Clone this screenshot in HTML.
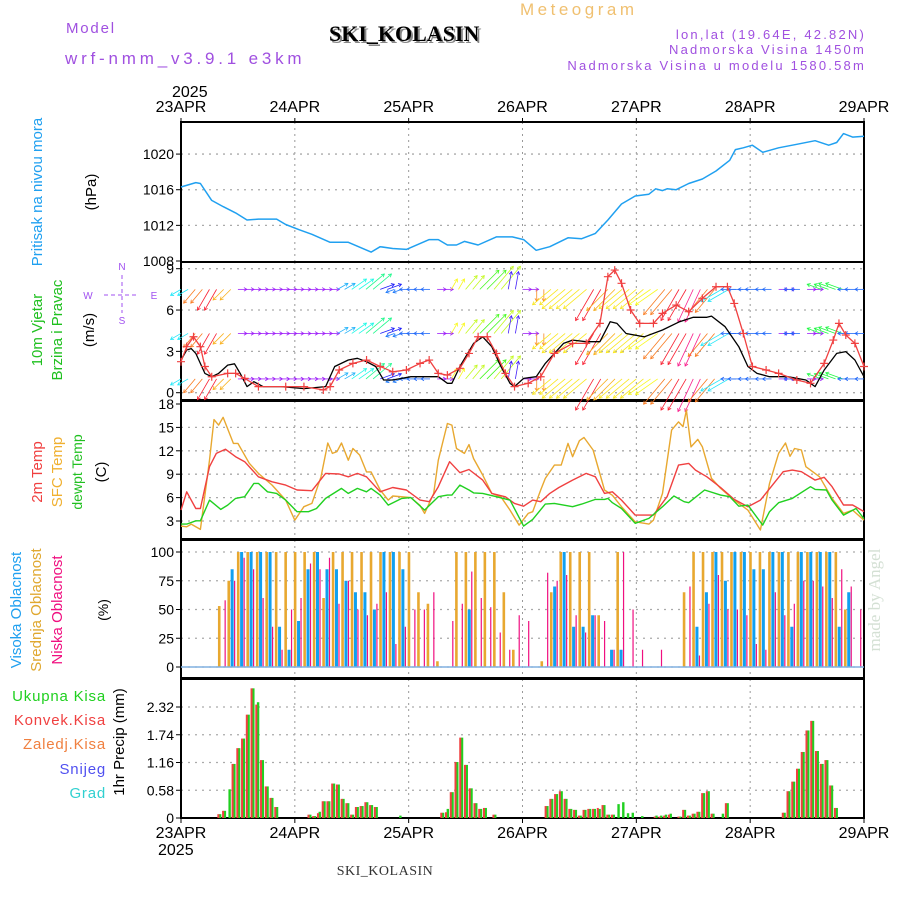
<!DOCTYPE html>
<html><head><meta charset="utf-8"><style>
html,body{margin:0;padding:0;background:#fff;}
svg{display:block;font-family:"Liberation Sans",sans-serif;}
</style></head><body>
<svg id="chart" width="900" height="900" viewBox="0 0 900 900" xmlns="http://www.w3.org/2000/svg">
<text x="520" y="15" font-size="17" fill="#f0c070" letter-spacing="3.5">Meteogram</text>
<text x="66" y="33" font-size="15" fill="#a050e0" letter-spacing="1.8">Model</text>
<text x="331" y="43" font-size="22" font-weight="bold" font-family="Liberation Serif,serif" fill="#888">SKI_KOLASIN</text>
<text x="329" y="41" font-size="22" font-weight="bold" font-family="Liberation Serif,serif" fill="#000">SKI_KOLASIN</text>
<text x="65" y="64" font-size="17" fill="#a050e0" letter-spacing="3.8">wrf-nmm_v3.9.1 e3km</text>
<text x="866" y="39" font-size="13" fill="#a050e0" text-anchor="end" letter-spacing="2.2">lon,lat (19.64E, 42.82N)</text>
<text x="866" y="54" font-size="13" fill="#a050e0" text-anchor="end" letter-spacing="2.2">Nadmorska Visina 1450m</text>
<text x="866" y="70" font-size="13" fill="#a050e0" text-anchor="end" letter-spacing="2.2">Nadmorska Visina u modelu 1580.58m</text>
<text x="880" y="600" font-size="17" fill="#d4e0d4" font-family="Liberation Serif,serif" text-anchor="middle" transform="rotate(-90 880 600)">made by Angel</text>
<text x="385" y="875" font-size="14" font-family="Liberation Serif,serif" fill="#333" text-anchor="middle" letter-spacing="0.5">SKI_KOLASIN</text>
<g id="dyn"></g>
</svg>
<script>
// ---- data ----
const dayLabels=["23APR","24APR","25APR","26APR","27APR","28APR","29APR"];
const presTicks=[1008,1012,1016,1020];
const windTicks=[0,3,6,9];
const tempTicks=[3,6,9,12,15,18];
const cloudTicks=[0,25,50,75,100];
const precTicks=[0,0.58,1.16,1.74,2.32];
const presDays=[0,0.13,0.17,0.27,0.37,0.48,0.58,0.68,0.84,0.92,1.04,1.15,1.31,1.47,1.67,1.75,1.86,1.98,2.18,2.26,2.34,2.42,2.49,2.61,2.77,2.91,3.01,3.12,3.24,3.40,3.52,3.64,3.75,3.87,3.99,4.11,4.17,4.23,4.27,4.35,4.46,4.58,4.70,4.82,4.87,4.94,5.02,5.11,5.25,5.41,5.57,5.69,5.76,5.82,5.90,6.0];
const presVals=[1016.3,1016.8,1016.7,1014.8,1014.1,1013.4,1012.6,1012.7,1012.7,1012.1,1011.5,1011.0,1010.1,1010.1,1009.0,1009.6,1009.4,1009.3,1010.4,1010.4,1009.8,1009.8,1010.2,1009.8,1010.7,1010.7,1010.4,1009.2,1009.6,1010.6,1010.5,1011.1,1012.6,1014.4,1015.3,1015.5,1016.1,1015.9,1016.1,1016.0,1016.7,1017.2,1018.1,1019.3,1020.5,1020.7,1021.0,1020.2,1020.7,1021.1,1021.5,1021.0,1021.3,1022.3,1021.9,1022.0];
const spdDays=[0,0.05,0.09,0.13,0.21,0.27,0.33,0.41,0.47,0.52,0.58,0.64,0.72,0.88,1.08,1.27,1.35,1.47,1.55,1.63,1.71,1.78,1.86,2.02,2.17,2.26,2.34,2.38,2.45,2.57,2.65,2.73,2.81,2.89,2.93,3.01,3.12,3.20,3.28,3.36,3.44,3.56,3.68,3.77,3.83,3.91,4.07,4.23,4.38,4.50,4.62,4.66,4.78,4.90,4.98,5.06,5.17,5.33,5.49,5.57,5.65,5.76,5.84,5.92,6.0];
const spdVals=[2.37,3.1,3.2,2.85,1.4,1.16,1.4,2.0,2.1,1.4,0.44,0.8,0.44,0.44,0.3,0.44,1.9,2.37,2.5,2.25,1.9,0.92,0.92,1.16,1.16,1.16,0.68,0.68,1.9,3.58,4.06,3.34,1.9,0.68,0.44,1.04,1.16,2.13,2.85,3.58,3.82,3.7,3.7,5.15,5.03,4.3,4.06,4.55,5.15,5.47,5.47,5.56,4.79,3.34,1.9,1.4,1.16,1.16,0.92,0.44,1.65,2.85,2.98,2.37,1.16];
const gustDays=[0,0.05,0.11,0.17,0.21,0.27,0.41,0.48,0.56,0.68,0.92,1.08,1.25,1.31,1.39,1.51,1.63,1.75,1.86,1.98,2.10,2.18,2.26,2.34,2.45,2.53,2.61,2.69,2.77,2.85,2.93,3.05,3.16,3.28,3.44,3.56,3.68,3.75,3.81,3.87,3.95,4.03,4.15,4.23,4.35,4.46,4.58,4.70,4.80,4.86,4.94,5.02,5.14,5.25,5.41,5.53,5.65,5.73,5.78,5.84,5.92,6.0];
const gustVals=[2.25,3.34,4.06,3.34,1.9,1.16,1.4,1.4,1.04,0.44,0.44,0.44,0.2,0.44,1.65,2.13,2.37,1.9,1.52,1.65,2.13,2.37,1.4,1.28,1.77,2.85,4.06,4.06,2.85,1.4,0.44,0.68,1.16,2.85,3.58,3.58,5.03,8.42,8.9,7.94,6.0,5.03,5.03,5.76,6.36,5.88,6.85,7.69,7.69,6.48,4.3,1.9,1.65,1.4,0.92,0.68,2.13,3.82,5.03,4.19,3.58,1.9];
// wind vectors, 3-hourly: screen pointing angle (deg) and speed (m/s)
const windAngle=[150,130,120,135,0,0,0,0,0,0,0,-30,-35,-40,-20,160,180,180,0,-60,-50,-45,-50,-80,0,90,140,140,140,120,135,140,140,145,130,120,115,130,150,180,180,180,0,180,0,200,200,180,180];
const windSpeed=[4,6,8,5,3,3,3,3,3,3,3,4,6,8,5,3,3,3,3,4,6,9,10,6,3,4,8,10,10,12,10,10,10,9,11,12,12,10,8,5,4,3,3,3,3,5,6,4,3];
const windLevels=[7.5,4.3,1.0];
const t2Days=[0,0.05,0.13,0.17,0.25,0.31,0.39,0.48,0.56,0.68,0.8,0.92,1.02,1.15,1.27,1.39,1.47,1.55,1.63,1.75,1.86,1.98,2.1,2.18,2.26,2.36,2.45,2.53,2.65,2.73,2.85,2.93,3.01,3.09,3.16,3.24,3.32,3.44,3.56,3.64,3.72,3.79,3.87,3.99,4.15,4.27,4.37,4.46,4.52,4.62,4.74,4.86,4.98,5.09,5.29,5.37,5.45,5.57,5.65,5.72,5.82,5.90,6.0];
const t2Vals=[4.4,6.75,4.6,4.6,9.96,11.67,12.2,11.24,10.6,8.67,8.03,7.6,6.97,6.88,9.1,9.02,8.67,9.1,8.67,6.75,7.3,6.97,5.68,5.47,7.4,10.6,9.19,9.6,8.25,6.54,6.1,5.26,4.9,5.68,5.47,6.54,7.3,8.25,9.1,8.67,6.54,6.75,5.68,3.76,3.76,6.11,10.17,10.38,9.53,8.67,7.3,5.77,4.83,5.68,9.32,9.53,9.32,8.25,8.6,7.4,5.05,5.05,4.2];
const sfcDays=[0,0.05,0.09,0.17,0.25,0.29,0.33,0.37,0.46,0.5,0.6,0.68,0.8,0.92,1.0,1.08,1.15,1.23,1.29,1.33,1.37,1.41,1.47,1.51,1.57,1.63,1.67,1.75,1.82,1.86,2.02,2.1,2.14,2.22,2.26,2.34,2.38,2.42,2.49,2.53,2.57,2.65,2.73,2.81,2.89,2.97,3.05,3.09,3.16,3.2,3.28,3.34,3.4,3.44,3.5,3.54,3.62,3.72,3.79,3.87,3.99,4.11,4.15,4.23,4.31,4.37,4.41,4.44,4.48,4.54,4.58,4.66,4.74,4.86,4.98,5.09,5.17,5.25,5.31,5.35,5.39,5.45,5.49,5.61,5.72,5.82,5.90,6.0];
const sfcVals=[2.35,2.26,2.6,1.92,10.8,16.0,15.3,16.3,12.95,12.95,10.4,9.1,7.6,5.68,3.1,4.83,5.26,8.67,13.0,11.67,11.9,13.0,10.8,12.3,11.45,9.3,9.3,6.97,5.68,6.2,6.0,5.0,3.97,6.54,10.8,15.5,15.3,12.3,11.67,12.8,11.0,8.9,6.54,6.1,4.4,2.48,3.97,4.19,6.97,8.46,10.17,10.17,12.95,11.24,13.3,13.7,12.1,6.97,6.3,4.83,2.9,2.6,3.1,6.54,14.66,15.7,15.1,17.2,12.5,13.46,12.5,8.46,7.18,5.68,4.4,1.84,7.8,11.67,13.0,11.3,12.3,12.1,9.96,8.67,5.9,3.97,4.4,3.1];
const dewDays=[0,0.05,0.13,0.17,0.25,0.35,0.41,0.48,0.56,0.64,0.68,0.76,0.84,0.92,1.02,1.12,1.19,1.27,1.41,1.47,1.55,1.63,1.67,1.75,1.82,1.94,2.02,2.14,2.26,2.34,2.38,2.45,2.53,2.57,2.65,2.77,2.89,3.01,3.09,3.2,3.28,3.36,3.44,3.52,3.64,3.72,3.75,3.79,3.87,3.99,4.11,4.23,4.33,4.42,4.46,4.6,4.74,4.82,4.9,4.98,5.11,5.17,5.25,5.37,5.53,5.57,5.67,5.72,5.82,5.93,6.0];
const dewVals=[2.6,2.6,3.03,3.03,5.68,4.49,5.04,5.9,6.11,7.82,7.82,6.75,6.54,5.68,4.19,4.19,4.6,5.9,7.18,6.54,7.18,6.75,7.18,6.32,5.04,5.9,6.0,4.4,6.11,6.32,6.32,7.6,6.97,6.6,6.54,6.11,5.68,2.35,3.2,5.17,5.26,5.04,4.83,5.17,5.77,5.77,5.9,5.34,4.6,2.7,3.33,4.83,6.2,5.47,5.34,6.97,6.32,6.11,4.9,5.04,2.48,4.19,5.34,5.9,7.4,7.05,6.97,5.68,3.76,4.6,3.3];
// cloud cover, 2-hourly (%)
const highCloud=[0,0,0,0,0,85,100,100,100,100,35,15,40,85,100,85,85,75,65,65,50,100,100,85,0,0,0,0,0,0,50,0,0,0,0,0,0,0,0,70,100,35,35,45,0,15,15,0,0,0,0,0,0,0,35,65,100,75,100,100,85,85,100,100,35,100,100,100,100,35,65,0,0];
const midCloud=[0,0,0,0,53,75,100,100,100,100,100,100,100,100,100,60,100,100,100,100,100,100,100,100,100,65,55,5,0,100,100,100,100,100,65,15,0,0,5,65,100,100,100,100,45,0,100,0,0,0,0,0,0,65,100,100,100,100,100,100,100,100,100,100,100,100,100,100,100,100,50,0,0];
const lowCloud=[0,0,0,0,58,75,95,85,60,35,15,50,60,90,85,95,55,75,50,45,55,65,20,35,50,50,65,0,40,55,83,60,52,30,15,45,40,0,82,75,80,45,30,45,40,15,100,50,15,0,15,0,0,70,10,55,80,50,50,45,20,15,65,45,55,75,75,70,60,85,70,50,0];
// hourly precipitation (mm)
const precHours=[8,9,10,11,12,13,14,15,16,17,18,19,20,27,28,29,30,31,32,33,34,35,36,37,38,39,40,41,46,55,56,57,58,59,60,61,62,63,64,66,77,78,79,80,81,82,83,84,85,86,87,88,89,90,91,92,93,94,95,97,100,101,102,103,105,106,107,108,109,110,111,112,114,115,127,128,129,130,131,132,133,134,135,136,137,138];
const totalPrec=[0.08,0.15,0.6,1.13,1.46,1.66,2.16,2.71,2.42,1.21,0.66,0.42,0.23,0.07,0.04,0.13,0.35,0.35,0.72,0.7,0.4,0.31,0.07,0.23,0.25,0.33,0.27,0.23,0.05,0.11,0.19,0.54,1.17,1.68,1.11,0.62,0.31,0.19,0.21,0.07,0.25,0.4,0.5,0.56,0.4,0.19,0.17,0.05,0.17,0.19,0.19,0.19,0.27,0.07,0.07,0.29,0.33,0.1,0.11,0.04,0.05,0.05,0.07,0.09,0.03,0.17,0.05,0.09,0.13,0.52,0.56,0.09,0.09,0.31,0.11,0.56,0.76,1.03,1.38,1.83,2.03,1.4,1.13,1.21,0.68,0.21];
const convPrec=[0.08,0.15,0.0,1.13,1.46,1.66,2.16,2.71,2.37,1.21,0.66,0.42,0.23,0.07,0.04,0.1,0.35,0.35,0.72,0.7,0.4,0.31,0.07,0.23,0.25,0.33,0.27,0.23,0.0,0.11,0.12,0.54,1.17,1.68,1.11,0.62,0.31,0.19,0.21,0.07,0.25,0.4,0.5,0.56,0.4,0.19,0.17,0.05,0.17,0.19,0.19,0.21,0.27,0.07,0.07,0.0,0.0,0.0,0.0,0.0,0.03,0.03,0.05,0.07,0.03,0.17,0.05,0.09,0.13,0.52,0.56,0.09,0.0,0.31,0.11,0.56,0.76,1.03,1.38,1.83,2.03,1.4,1.13,1.21,0.68,0.21];

// ---- layout ----
const NS="http://www.w3.org/2000/svg";
const X0=181,X1=864;
const panels={
  pres:{top:122,bot:262,v0:1008,v1:1023.6,y0:261,y1:122},
  wind:{top:262,bot:400,v0:0,v1:9,y0:392.7,y1:268.7},
  temp:{top:401,bot:539,v0:3,v1:18,y0:521,y1:404},
  cloud:{top:540,bot:678,v0:0,v1:100,y0:667,y1:552},
  prec:{top:679,bot:818,v0:0,v1:2.32,y0:818,y1:707}
};
const g=document.getElementById('dyn');
function xs(d){return X0+(X1-X0)*d/6;}
function ys(p,v){return p.y0+(v-p.v0)*(p.y1-p.y0)/(p.v1-p.v0);}
function el(tag,attrs,parent){const e=document.createElementNS(NS,tag);for(const k in attrs)e.setAttribute(k,attrs[k]);(parent||g).appendChild(e);return e;}
function txt(x,y,s,attrs){const e=el('text',Object.assign({x:x,y:y},attrs));e.textContent=s;return e;}

function drawGrid(p,ticks,fmt,name){
  const grp=el('g',{});
  
  
  for(let d=1;d<6;d++){el('line',{x1:xs(d),x2:xs(d),y1:p.top,y2:p.bot,stroke:'#999','stroke-dasharray':'2,4','stroke-width':1},grp);}
  ticks.forEach(t=>{const y=ys(p,t);
    if(y>p.top+3&&y<p.bot-3) el('line',{x1:X0,x2:X1,y1:y,y2:y,stroke:'#aaa','stroke-dasharray':'2,5','stroke-width':1.3},grp);
    el('line',{x1:X0-5,x2:X0,y1:y,y2:y,stroke:'#000'},grp);
    const t1=txt(X0-7,y+5,fmt(t),{'font-size':14,'text-anchor':'end',fill:'#000'});grp.appendChild(t1);
    
    
  });
  el('rect',{x:X0,y:p.top,width:X1-X0,height:p.bot-p.top,fill:'none',stroke:'#000','stroke-width':2},grp);
}
drawGrid(panels.pres,presTicks,v=>String(v),'pressure');
drawGrid(panels.wind,windTicks,v=>String(v),'wind');
drawGrid(panels.temp,tempTicks,v=>String(v),'temperature');
drawGrid(panels.cloud,cloudTicks,v=>String(v),'cloud');
drawGrid(panels.prec,precTicks,v=>v===0?'0':v.toFixed(2),'precip');

dayLabels.forEach((s,i)=>{
  const a=txt(xs(i),112,s,{'font-size':16,'text-anchor':'middle',fill:'#000'});
  
  
  const b=txt(xs(i),838,s,{'font-size':16,'text-anchor':'middle',fill:'#000'});
  
  
  el('line',{x1:xs(i),x2:xs(i),y1:118,y2:123,stroke:'#000'});
  el('line',{x1:xs(i),x2:xs(i),y1:817,y2:823,stroke:'#000'});
});
const y1=txt(172,97,'2025',{'font-size':16,fill:'#000'});


const y2=txt(158,855,'2025',{'font-size':16,fill:'#000'});



function vlabel(x,y,s,color,name,size){const t=txt(x,y,s,{'font-size':size||14,fill:color,'text-anchor':'middle',transform:'rotate(-90 '+x+' '+y+')'});
  
  }
vlabel(42,192,'Pritisak na nivou mora','#20a0f0','pressure-title',15);
vlabel(96,192,'(hPa)','#000','pressure-unit',15);
vlabel(42,330,'10m Vjetar','#20c020','wind-title',15);
vlabel(62,330,'Brzina i Pravac','#20c020','wind-subtitle',15);
vlabel(94,330,'(m/s)','#000','wind-unit',15);
vlabel(42,472,'2m Temp','#f04040','t2-legend',15);
vlabel(62,472,'SFC Temp','#f0b030','sfc-legend',15);
vlabel(82,472,'dewpt Temp','#20c020','dew-legend',14);
vlabel(106,472,'(C)','#000','temp-unit',15);
vlabel(21,610,'Visoka Oblacnost','#20a0f0','high-cloud-legend',15);
vlabel(41,610,'Srednja Oblacnost','#e0a830','mid-cloud-legend',15);
vlabel(62,610,'Niska Oblacnost','#f01080','low-cloud-legend',15);
vlabel(108,610,'(%)','#000','cloud-unit',14);
vlabel(124,742,'1hr Precip (mm)','#000','precip-unit',15);
[['Ukupna Kisa','#20d020',701],['Konvek.Kisa','#f04040',725],['Zaledj.Kisa','#f08040',749],['Snijeg','#5050f0',774],['Grad','#30d0d0',798]].forEach(r=>{
  const t=txt(106,r[2],r[0],{'font-size':15,fill:r[1],'text-anchor':'end','letter-spacing':'0.8'});
  
  
});
const cg=el('g',{stroke:'#a050f0','stroke-width':1,fill:'none'});


el('line',{x1:104,x2:137,y1:295,y2:295,'stroke-dasharray':'4,3'},cg);
el('line',{x1:122,x2:122,y1:275,y2:313,'stroke-dasharray':'4,3'},cg);
[['N',122,270],['S',122,324],['W',88,299],['E',154,299]].forEach(c=>{const t=txt(c[1],c[2],c[0],{'font-size':10,fill:'#a050f0','text-anchor':'middle','stroke':'none'});cg.appendChild(t);});

function path(p,days,vals,color,w,name){
  const d=days.map((t,i)=>(i?'L':'M')+xs(t).toFixed(1)+','+ys(p,vals[i]).toFixed(1)).join('');
  const e=el('path',{d:d,fill:'none',stroke:color,'stroke-width':w||1.3,'stroke-linejoin':'round'});
  
  
  return e;
}
path(panels.pres,presDays,presVals,'#20a0f0',1.5,'pressure-line');

function hueFor(a){
  const tab=[[-80,250],[-60,60],[-50,75],[-45,110],[-40,150],[-35,175],[-30,200],[-20,240],[0,275],[90,30],[115,330],[120,355],[130,25],[135,40],[140,55],[145,60],[150,185],[160,215],[180,220],[200,130]];
  let best=tab[0];tab.forEach(r=>{if(Math.abs(r[0]-a)<Math.abs(best[0]-a))best=r;});return best[1];
}
const wg=el('g',{});


windLevels.forEach(lv=>{
  const y=ys(panels.wind,lv);
  for(let i=0;i<windAngle.length;i++){
    for(let k=0;k<2;k++){
      const d=i*0.125+k*0.0625; if(d>6)break;
      const x=xs(d);
      const a=windAngle[i]*Math.PI/180, L=windSpeed[i]*3.0;
      const x2=x+Math.cos(a)*L, y2=y+Math.sin(a)*L;
      const c='hsl('+hueFor(windAngle[i])+',95%,55%)';
      el('line',{x1:x,y1:y,x2:x2,y2:y2,stroke:c,'stroke-width':0.8},wg);
      const h1=a+2.6,h2=a-2.6;
      el('path',{d:'M'+(x2+Math.cos(h1)*3.5)+','+(y2+Math.sin(h1)*3.5)+'L'+x2+','+y2+'L'+(x2+Math.cos(h2)*3.5)+','+(y2+Math.sin(h2)*3.5),stroke:c,fill:'none','stroke-width':0.8},wg);
    }
  }
});
path(panels.wind,spdDays,spdVals,'#000',1.3,'wind-speed-line');
path(panels.wind,gustDays,gustVals,'#f04040',1.3,'wind-gust-line');
const gm=el('g',{stroke:'#f04040','stroke-width':1.2});


gustDays.forEach((t,i)=>{const x=xs(t),y=ys(panels.wind,gustVals[i]);
  el('path',{d:'M'+(x-4)+','+y+'H'+(x+4)+'M'+x+','+(y-4)+'V'+(y+4)},gm);});

path(panels.temp,sfcDays,sfcVals,'#e8a830',1.4,'sfc-temp-line');
path(panels.temp,t2Days,t2Vals,'#f04040',1.4,'t2-temp-line');
path(panels.temp,dewDays,dewVals,'#20d020',1.4,'dew-temp-line');

const clg=el('g',{});


const cp=panels.cloud;
for(let i=0;i<midCloud.length;i++){
  const x=xs(i/12);
  if(midCloud[i]>0){const y=ys(cp,midCloud[i]);el('rect',{x:x-1,y:y,width:2.6,height:cp.y0-y,fill:'#e8a830'},clg);}
  if(highCloud[i]>0){const y=ys(cp,highCloud[i]);el('rect',{x:x+2.2,y:y,width:3,height:cp.y0-y,fill:'#10a0f0'},clg);}
  if(lowCloud[i]>0){const y=ys(cp,lowCloud[i]);el('rect',{x:x+5.6,y:y,width:1.2,height:cp.y0-y,fill:'#f01080'},clg);}
}
el('line',{x1:X0,x2:X1,y1:cp.y0,y2:cp.y0,stroke:'#80b0e0','stroke-width':1.5},clg);

const pg=el('g',{});


const pp=panels.prec;
precHours.forEach((h,i)=>{
  const x=xs(h/24);
  const yt=ys(pp,totalPrec[i]);el('rect',{x:x,y:yt,width:2.4,height:pp.y0-yt,fill:'#20d020'},pg);
  if(convPrec[i]>0){const yc=ys(pp,convPrec[i]);el('rect',{x:x-1.6,y:yc,width:2,height:pp.y0-yc,fill:'#f04040'},pg);}
});
</script>
</body></html>
